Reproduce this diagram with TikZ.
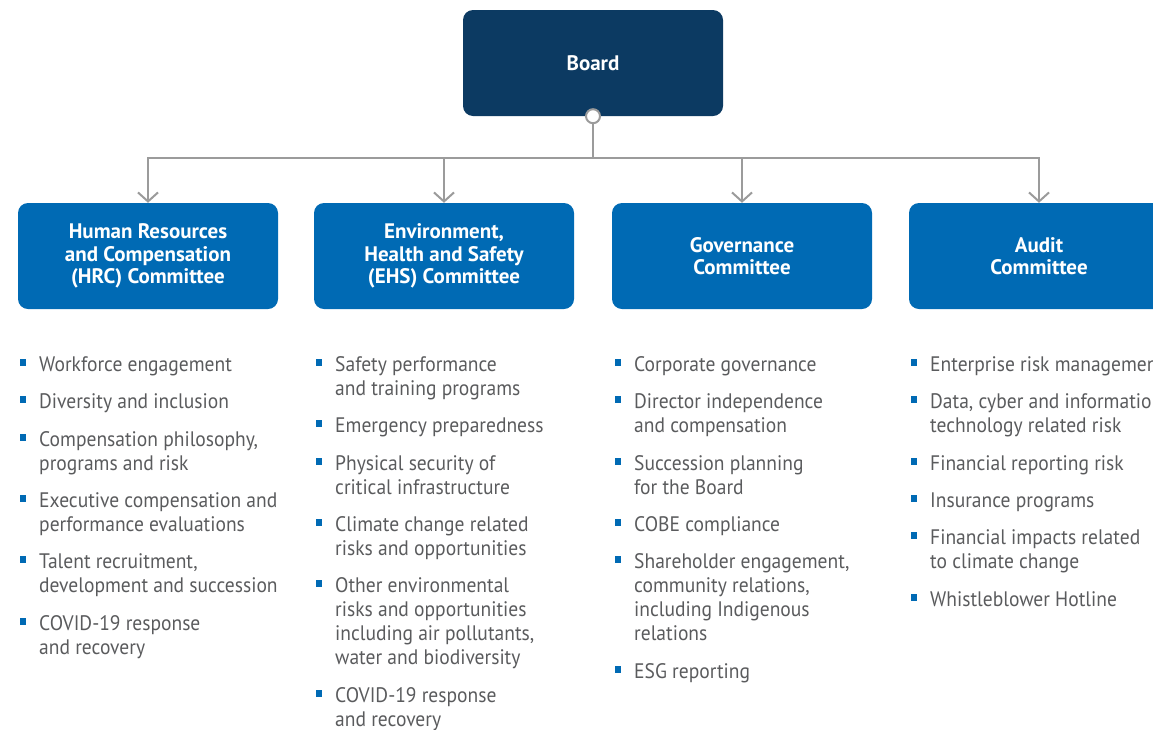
\documentclass[tikz,border=0pt]{standalone}
\usepackage{fontspec}
\setmainfont{PT Sans}
\newfontfamily\itemfont[FakeStretch=0.93]{PT Sans}
\usetikzlibrary{arrows.meta}
\definecolor{navy}{HTML}{0C3A62}
\definecolor{cblue}{HTML}{006AB4}
\definecolor{lgray}{HTML}{9B9B9B}
\definecolor{tgray}{HTML}{5A5B5D}

% bullet item: #1 name, #2 text x, #3 baseline of first line, #4 list of lines
\newcommand\bulletitem[4]{%
  \node[bul] (#1b) at (#2-16, #3-8.5) {};
  \foreach \ln [count=\i from 0] in {#4} {
    \node[itemtext] (#1l\i) at (#2, #3+24*\i) {\ln};
  }%
}

\begin{document}
\begin{tikzpicture}[x=1pt,y=-1pt,
  boardbox/.style={fill=navy, rounded corners=10pt, minimum width=260pt,
    minimum height=106pt, text=white, inner sep=0pt,
    font=\bfseries\fontsize{21}{22.5}\selectfont, align=center},
  combox/.style={fill=cblue, rounded corners=10pt, minimum width=260pt,
    minimum height=106pt, text=white, inner sep=0pt,
    font=\bfseries\fontsize{21}{22.5}\selectfont, align=center},
  conn/.style={draw=lgray, line width=2pt},
  tip/.style={-{Straight Barb[length=9pt,width=20pt,line width=2pt]}},
  bul/.style={fill=cblue, minimum size=6.5pt, inner sep=0pt},
  itemtext/.style={text=tgray, font=\itemfont\fontsize{21}{24}\selectfont,
    inner sep=0pt, anchor=base west}]

\useasboundingbox (0,0) rectangle (1153,729);
\clip (0,0) rectangle (1153,729);

% boxes
\node[boardbox] (board) at (593,63) {Board};
\node[combox] (hrc) at (148,256) {Human Resources\\and Compensation\\(HRC) Committee};
\node[combox] (ehs) at (444,256) {Environment,\\Health and Safety\\(EHS) Committee};
\node[combox] (gov) at (742,256) {Governance\\Committee};
\node[combox] (aud) at (1039,256) {Audit\\Committee};

% connectors
\node[circle, draw=lgray, fill=white, line width=2pt, minimum size=14pt,
      inner sep=0pt] (knob) at (board.south) {};
\coordinate (hub) at (593,158);
\draw[conn] (knob) -- (hub);
\draw[conn, tip] (hub) -| (hrc.north);
\draw[conn, tip] (hub) -| (ehs.north);
\draw[conn, tip] (hub) -| (gov.north);
\draw[conn, tip] (hub) -| (aud.north);

% HRC responsibilities
\bulletitem{a1}{39}{371}{Workforce engagement}
\bulletitem{a2}{39}{408}{Diversity and inclusion}
\bulletitem{a3}{39}{446}{{Compensation philosophy,}, {programs and risk}}
\bulletitem{a4}{39}{507}{Executive compensation and, performance evaluations}
\bulletitem{a5}{39}{568}{{Talent recruitment,}, development and succession}
\bulletitem{a6}{39}{630}{COVID-19 response, and recovery}

% EHS responsibilities
\bulletitem{b1}{335}{371}{Safety performance, and training programs}
\bulletitem{b2}{335}{432}{Emergency preparedness}
\bulletitem{b3}{335}{470}{Physical security of, critical infrastructure}
\bulletitem{b4}{335}{531}{Climate change related, risks and opportunities}
\bulletitem{b5}{335}{592}{Other environmental, risks and opportunities, {including air pollutants,}, water and biodiversity}
\bulletitem{b6}{335}{702}{COVID-19 response, and recovery}

% Governance responsibilities
\bulletitem{c1}{634}{371}{Corporate governance}
\bulletitem{c2}{634}{408}{Director independence, and compensation}
\bulletitem{c3}{634}{470}{Succession planning, for the Board}
\bulletitem{c4}{634}{531}{COBE compliance}
\bulletitem{c5}{634}{568}{{Shareholder engagement,}, {community relations,}, including Indigenous, relations}
\bulletitem{c6}{634}{678}{ESG reporting}

% Audit responsibilities
\bulletitem{d1}{930}{371}{Enterprise risk management}
\bulletitem{d2}{930}{408}{{Data, cyber and information}, technology related risk}
\bulletitem{d3}{930}{470}{Financial reporting risk}
\bulletitem{d4}{930}{507}{Insurance programs}
\bulletitem{d5}{930}{544}{Financial impacts related, to climate change}
\bulletitem{d6}{930}{606}{Whistleblower Hotline}
\end{tikzpicture}
\end{document}
